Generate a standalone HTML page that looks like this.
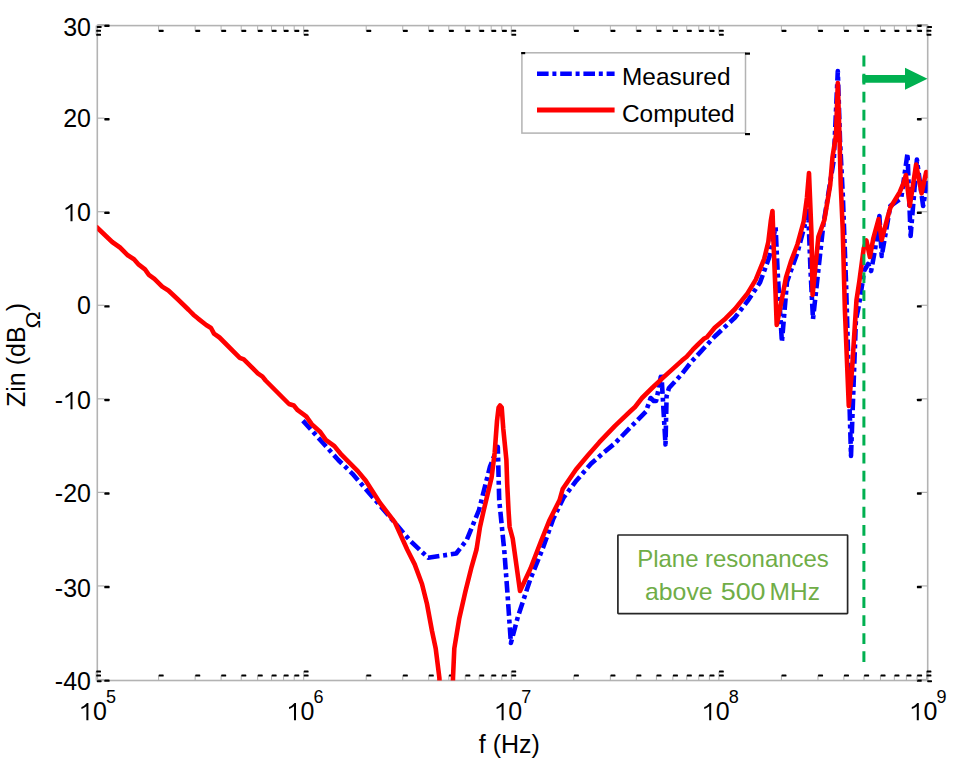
<!DOCTYPE html>
<html><head><meta charset="utf-8"><style>
html,body{margin:0;padding:0;background:#fff;overflow:hidden;}
svg{display:block;}
.t{font-family:"Liberation Sans",sans-serif;font-size:25px;fill:#000;}
.s{font-family:"Liberation Sans",sans-serif;font-size:18px;fill:#000;}
.g{font-family:"Liberation Sans",sans-serif;font-size:24px;fill:#70ad47;}
</style></head><body>
<svg width="958" height="768" viewBox="0 0 958 768">
<rect width="958" height="768" fill="#fff"/>
<rect x="97.3" y="25.6" width="830.4000000000001" height="654.9" fill="none" stroke="#b3b3b3" stroke-width="1.6"/><line x1="97.3" y1="679.5" x2="104.3" y2="679.5" stroke="#b0b0b0" stroke-width="1.2"/><rect x="104.3" y="679.4" width="5.3" height="2.4" rx="0.6" fill="#000"/><line x1="927.7" y1="679.5" x2="920.7" y2="679.5" stroke="#b0b0b0" stroke-width="1.2"/><rect x="916.9000000000001" y="679.4" width="4.8" height="2.4" rx="0.6" fill="#000"/><text x="54.87" y="689.5" class="t">-</text><text x="63.19" y="689.5" class="t">4</text><text x="77.10" y="689.5" class="t">0</text><line x1="97.3" y1="585.9428571428572" x2="104.3" y2="585.9428571428572" stroke="#b0b0b0" stroke-width="1.2"/><rect x="104.3" y="585.8428571428572" width="5.3" height="2.4" rx="0.6" fill="#000"/><line x1="927.7" y1="585.9428571428572" x2="920.7" y2="585.9428571428572" stroke="#b0b0b0" stroke-width="1.2"/><rect x="916.9000000000001" y="585.8428571428572" width="4.8" height="2.4" rx="0.6" fill="#000"/><text x="54.87" y="596.74" class="t">-</text><text x="63.19" y="596.74" class="t">3</text><text x="77.10" y="596.74" class="t">0</text><line x1="97.3" y1="492.3857142857143" x2="104.3" y2="492.3857142857143" stroke="#b0b0b0" stroke-width="1.2"/><rect x="104.3" y="492.2857142857143" width="5.3" height="2.4" rx="0.6" fill="#000"/><line x1="927.7" y1="492.3857142857143" x2="920.7" y2="492.3857142857143" stroke="#b0b0b0" stroke-width="1.2"/><rect x="916.9000000000001" y="492.2857142857143" width="4.8" height="2.4" rx="0.6" fill="#000"/><text x="54.87" y="501.89" class="t">-</text><text x="63.19" y="501.89" class="t">2</text><text x="77.10" y="501.89" class="t">0</text><line x1="97.3" y1="398.8285714285715" x2="104.3" y2="398.8285714285715" stroke="#b0b0b0" stroke-width="1.2"/><rect x="104.3" y="398.72857142857146" width="5.3" height="2.4" rx="0.6" fill="#000"/><line x1="927.7" y1="398.8285714285715" x2="920.7" y2="398.8285714285715" stroke="#b0b0b0" stroke-width="1.2"/><rect x="916.9000000000001" y="398.72857142857146" width="4.8" height="2.4" rx="0.6" fill="#000"/><text x="54.87" y="409.23" class="t">-</text><path d="M763,0 L598,0 L598,1160 Q530,1095 412,1027 Q296,962 190,930 L190,1090 Q357,1160 474,1262 Q591,1364 645,1409 L763,1409 Z" transform="translate(63.19,409.23) scale(0.012207,-0.012207)" fill="#000"/><text x="77.10" y="409.23" class="t">0</text><line x1="97.3" y1="305.2714285714286" x2="104.3" y2="305.2714285714286" stroke="#b0b0b0" stroke-width="1.2"/><rect x="104.3" y="305.1714285714286" width="5.3" height="2.4" rx="0.6" fill="#000"/><line x1="927.7" y1="305.2714285714286" x2="920.7" y2="305.2714285714286" stroke="#b0b0b0" stroke-width="1.2"/><rect x="916.9000000000001" y="305.1714285714286" width="4.8" height="2.4" rx="0.6" fill="#000"/><text x="77.10" y="314.27" class="t">0</text><line x1="97.3" y1="211.71428571428572" x2="104.3" y2="211.71428571428572" stroke="#b0b0b0" stroke-width="1.2"/><rect x="104.3" y="211.61428571428573" width="5.3" height="2.4" rx="0.6" fill="#000"/><line x1="927.7" y1="211.71428571428572" x2="920.7" y2="211.71428571428572" stroke="#b0b0b0" stroke-width="1.2"/><rect x="916.9000000000001" y="211.61428571428573" width="4.8" height="2.4" rx="0.6" fill="#000"/><path d="M763,0 L598,0 L598,1160 Q530,1095 412,1027 Q296,962 190,930 L190,1090 Q357,1160 474,1262 Q591,1364 645,1409 L763,1409 Z" transform="translate(63.19,221.21) scale(0.012207,-0.012207)" fill="#000"/><text x="77.10" y="221.21" class="t">0</text><line x1="97.3" y1="118.15714285714287" x2="104.3" y2="118.15714285714287" stroke="#b0b0b0" stroke-width="1.2"/><rect x="104.3" y="118.05714285714288" width="5.3" height="2.4" rx="0.6" fill="#000"/><line x1="927.7" y1="118.15714285714287" x2="920.7" y2="118.15714285714287" stroke="#b0b0b0" stroke-width="1.2"/><rect x="916.9000000000001" y="118.05714285714288" width="4.8" height="2.4" rx="0.6" fill="#000"/><text x="63.19" y="126.76" class="t">2</text><text x="77.10" y="126.76" class="t">0</text><line x1="97.3" y1="24.6" x2="104.3" y2="24.6" stroke="#b0b0b0" stroke-width="1.2"/><rect x="104.3" y="24.5" width="5.3" height="2.4" rx="0.6" fill="#000"/><line x1="927.7" y1="24.6" x2="920.7" y2="24.6" stroke="#b0b0b0" stroke-width="1.2"/><rect x="916.9000000000001" y="24.5" width="4.8" height="2.4" rx="0.6" fill="#000"/><text x="63.19" y="35.8" class="t">3</text><text x="77.10" y="35.8" class="t">0</text><line x1="158.5938270998425" y1="25.6" x2="158.5938270998425" y2="30.6" stroke="#b0b0b0" stroke-width="1"/><line x1="158.5938270998425" y1="680.5" x2="158.5938270998425" y2="675.5" stroke="#b0b0b0" stroke-width="1"/><rect x="158.6938270998425" y="29.8" width="5" height="2.1" rx="0.6" fill="#000"/><rect x="158.6938270998425" y="674.4" width="5" height="2.1" rx="0.6" fill="#000"/><line x1="195.15037247980197" y1="25.6" x2="195.15037247980197" y2="30.6" stroke="#b0b0b0" stroke-width="1"/><line x1="195.15037247980197" y1="680.5" x2="195.15037247980197" y2="675.5" stroke="#b0b0b0" stroke-width="1"/><rect x="195.25037247980197" y="29.8" width="5" height="2.1" rx="0.6" fill="#000"/><rect x="195.25037247980197" y="674.4" width="5" height="2.1" rx="0.6" fill="#000"/><line x1="221.08765419968503" y1="25.6" x2="221.08765419968503" y2="30.6" stroke="#b0b0b0" stroke-width="1"/><line x1="221.08765419968503" y1="680.5" x2="221.08765419968503" y2="675.5" stroke="#b0b0b0" stroke-width="1"/><rect x="221.18765419968503" y="29.8" width="5" height="2.1" rx="0.6" fill="#000"/><rect x="221.18765419968503" y="674.4" width="5" height="2.1" rx="0.6" fill="#000"/><line x1="241.20617290015753" y1="25.6" x2="241.20617290015753" y2="30.6" stroke="#b0b0b0" stroke-width="1"/><line x1="241.20617290015753" y1="680.5" x2="241.20617290015753" y2="675.5" stroke="#b0b0b0" stroke-width="1"/><rect x="241.30617290015752" y="29.8" width="5" height="2.1" rx="0.6" fill="#000"/><rect x="241.30617290015752" y="674.4" width="5" height="2.1" rx="0.6" fill="#000"/><line x1="257.64419957964446" y1="25.6" x2="257.64419957964446" y2="30.6" stroke="#b0b0b0" stroke-width="1"/><line x1="257.64419957964446" y1="680.5" x2="257.64419957964446" y2="675.5" stroke="#b0b0b0" stroke-width="1"/><rect x="257.74419957964443" y="29.8" width="5" height="2.1" rx="0.6" fill="#000"/><rect x="257.74419957964443" y="674.4" width="5" height="2.1" rx="0.6" fill="#000"/><line x1="271.54235310695975" y1="25.6" x2="271.54235310695975" y2="30.6" stroke="#b0b0b0" stroke-width="1"/><line x1="271.54235310695975" y1="680.5" x2="271.54235310695975" y2="675.5" stroke="#b0b0b0" stroke-width="1"/><rect x="271.6423531069597" y="29.8" width="5" height="2.1" rx="0.6" fill="#000"/><rect x="271.6423531069597" y="674.4" width="5" height="2.1" rx="0.6" fill="#000"/><line x1="283.5814812995276" y1="25.6" x2="283.5814812995276" y2="30.6" stroke="#b0b0b0" stroke-width="1"/><line x1="283.5814812995276" y1="680.5" x2="283.5814812995276" y2="675.5" stroke="#b0b0b0" stroke-width="1"/><rect x="283.68148129952755" y="29.8" width="5" height="2.1" rx="0.6" fill="#000"/><rect x="283.68148129952755" y="674.4" width="5" height="2.1" rx="0.6" fill="#000"/><line x1="294.2007449596039" y1="25.6" x2="294.2007449596039" y2="30.6" stroke="#b0b0b0" stroke-width="1"/><line x1="294.2007449596039" y1="680.5" x2="294.2007449596039" y2="675.5" stroke="#b0b0b0" stroke-width="1"/><rect x="294.3007449596039" y="29.8" width="5" height="2.1" rx="0.6" fill="#000"/><rect x="294.3007449596039" y="674.4" width="5" height="2.1" rx="0.6" fill="#000"/><line x1="366.19382709984257" y1="25.6" x2="366.19382709984257" y2="30.6" stroke="#b0b0b0" stroke-width="1"/><line x1="366.19382709984257" y1="680.5" x2="366.19382709984257" y2="675.5" stroke="#b0b0b0" stroke-width="1"/><rect x="366.29382709984253" y="29.8" width="5" height="2.1" rx="0.6" fill="#000"/><rect x="366.29382709984253" y="674.4" width="5" height="2.1" rx="0.6" fill="#000"/><line x1="402.750372479802" y1="25.6" x2="402.750372479802" y2="30.6" stroke="#b0b0b0" stroke-width="1"/><line x1="402.750372479802" y1="680.5" x2="402.750372479802" y2="675.5" stroke="#b0b0b0" stroke-width="1"/><rect x="402.850372479802" y="29.8" width="5" height="2.1" rx="0.6" fill="#000"/><rect x="402.850372479802" y="674.4" width="5" height="2.1" rx="0.6" fill="#000"/><line x1="428.6876541996851" y1="25.6" x2="428.6876541996851" y2="30.6" stroke="#b0b0b0" stroke-width="1"/><line x1="428.6876541996851" y1="680.5" x2="428.6876541996851" y2="675.5" stroke="#b0b0b0" stroke-width="1"/><rect x="428.78765419968505" y="29.8" width="5" height="2.1" rx="0.6" fill="#000"/><rect x="428.78765419968505" y="674.4" width="5" height="2.1" rx="0.6" fill="#000"/><line x1="448.80617290015755" y1="25.6" x2="448.80617290015755" y2="30.6" stroke="#b0b0b0" stroke-width="1"/><line x1="448.80617290015755" y1="680.5" x2="448.80617290015755" y2="675.5" stroke="#b0b0b0" stroke-width="1"/><rect x="448.9061729001575" y="29.8" width="5" height="2.1" rx="0.6" fill="#000"/><rect x="448.9061729001575" y="674.4" width="5" height="2.1" rx="0.6" fill="#000"/><line x1="465.24419957964454" y1="25.6" x2="465.24419957964454" y2="30.6" stroke="#b0b0b0" stroke-width="1"/><line x1="465.24419957964454" y1="680.5" x2="465.24419957964454" y2="675.5" stroke="#b0b0b0" stroke-width="1"/><rect x="465.3441995796445" y="29.8" width="5" height="2.1" rx="0.6" fill="#000"/><rect x="465.3441995796445" y="674.4" width="5" height="2.1" rx="0.6" fill="#000"/><line x1="479.1423531069598" y1="25.6" x2="479.1423531069598" y2="30.6" stroke="#b0b0b0" stroke-width="1"/><line x1="479.1423531069598" y1="680.5" x2="479.1423531069598" y2="675.5" stroke="#b0b0b0" stroke-width="1"/><rect x="479.24235310695974" y="29.8" width="5" height="2.1" rx="0.6" fill="#000"/><rect x="479.24235310695974" y="674.4" width="5" height="2.1" rx="0.6" fill="#000"/><line x1="491.1814812995276" y1="25.6" x2="491.1814812995276" y2="30.6" stroke="#b0b0b0" stroke-width="1"/><line x1="491.1814812995276" y1="680.5" x2="491.1814812995276" y2="675.5" stroke="#b0b0b0" stroke-width="1"/><rect x="491.28148129952757" y="29.8" width="5" height="2.1" rx="0.6" fill="#000"/><rect x="491.28148129952757" y="674.4" width="5" height="2.1" rx="0.6" fill="#000"/><line x1="501.800744959604" y1="25.6" x2="501.800744959604" y2="30.6" stroke="#b0b0b0" stroke-width="1"/><line x1="501.800744959604" y1="680.5" x2="501.800744959604" y2="675.5" stroke="#b0b0b0" stroke-width="1"/><rect x="501.90074495960397" y="29.8" width="5" height="2.1" rx="0.6" fill="#000"/><rect x="501.90074495960397" y="674.4" width="5" height="2.1" rx="0.6" fill="#000"/><line x1="573.7938270998425" y1="25.6" x2="573.7938270998425" y2="30.6" stroke="#b0b0b0" stroke-width="1"/><line x1="573.7938270998425" y1="680.5" x2="573.7938270998425" y2="675.5" stroke="#b0b0b0" stroke-width="1"/><rect x="573.8938270998425" y="29.8" width="5" height="2.1" rx="0.6" fill="#000"/><rect x="573.8938270998425" y="674.4" width="5" height="2.1" rx="0.6" fill="#000"/><line x1="610.3503724798019" y1="25.6" x2="610.3503724798019" y2="30.6" stroke="#b0b0b0" stroke-width="1"/><line x1="610.3503724798019" y1="680.5" x2="610.3503724798019" y2="675.5" stroke="#b0b0b0" stroke-width="1"/><rect x="610.4503724798019" y="29.8" width="5" height="2.1" rx="0.6" fill="#000"/><rect x="610.4503724798019" y="674.4" width="5" height="2.1" rx="0.6" fill="#000"/><line x1="636.287654199685" y1="25.6" x2="636.287654199685" y2="30.6" stroke="#b0b0b0" stroke-width="1"/><line x1="636.287654199685" y1="680.5" x2="636.287654199685" y2="675.5" stroke="#b0b0b0" stroke-width="1"/><rect x="636.387654199685" y="29.8" width="5" height="2.1" rx="0.6" fill="#000"/><rect x="636.387654199685" y="674.4" width="5" height="2.1" rx="0.6" fill="#000"/><line x1="656.4061729001575" y1="25.6" x2="656.4061729001575" y2="30.6" stroke="#b0b0b0" stroke-width="1"/><line x1="656.4061729001575" y1="680.5" x2="656.4061729001575" y2="675.5" stroke="#b0b0b0" stroke-width="1"/><rect x="656.5061729001575" y="29.8" width="5" height="2.1" rx="0.6" fill="#000"/><rect x="656.5061729001575" y="674.4" width="5" height="2.1" rx="0.6" fill="#000"/><line x1="672.8441995796444" y1="25.6" x2="672.8441995796444" y2="30.6" stroke="#b0b0b0" stroke-width="1"/><line x1="672.8441995796444" y1="680.5" x2="672.8441995796444" y2="675.5" stroke="#b0b0b0" stroke-width="1"/><rect x="672.9441995796444" y="29.8" width="5" height="2.1" rx="0.6" fill="#000"/><rect x="672.9441995796444" y="674.4" width="5" height="2.1" rx="0.6" fill="#000"/><line x1="686.7423531069597" y1="25.6" x2="686.7423531069597" y2="30.6" stroke="#b0b0b0" stroke-width="1"/><line x1="686.7423531069597" y1="680.5" x2="686.7423531069597" y2="675.5" stroke="#b0b0b0" stroke-width="1"/><rect x="686.8423531069598" y="29.8" width="5" height="2.1" rx="0.6" fill="#000"/><rect x="686.8423531069598" y="674.4" width="5" height="2.1" rx="0.6" fill="#000"/><line x1="698.7814812995275" y1="25.6" x2="698.7814812995275" y2="30.6" stroke="#b0b0b0" stroke-width="1"/><line x1="698.7814812995275" y1="680.5" x2="698.7814812995275" y2="675.5" stroke="#b0b0b0" stroke-width="1"/><rect x="698.8814812995275" y="29.8" width="5" height="2.1" rx="0.6" fill="#000"/><rect x="698.8814812995275" y="674.4" width="5" height="2.1" rx="0.6" fill="#000"/><line x1="709.4007449596039" y1="25.6" x2="709.4007449596039" y2="30.6" stroke="#b0b0b0" stroke-width="1"/><line x1="709.4007449596039" y1="680.5" x2="709.4007449596039" y2="675.5" stroke="#b0b0b0" stroke-width="1"/><rect x="709.5007449596039" y="29.8" width="5" height="2.1" rx="0.6" fill="#000"/><rect x="709.5007449596039" y="674.4" width="5" height="2.1" rx="0.6" fill="#000"/><line x1="781.3938270998425" y1="25.6" x2="781.3938270998425" y2="30.6" stroke="#b0b0b0" stroke-width="1"/><line x1="781.3938270998425" y1="680.5" x2="781.3938270998425" y2="675.5" stroke="#b0b0b0" stroke-width="1"/><rect x="781.4938270998425" y="29.8" width="5" height="2.1" rx="0.6" fill="#000"/><rect x="781.4938270998425" y="674.4" width="5" height="2.1" rx="0.6" fill="#000"/><line x1="817.9503724798019" y1="25.6" x2="817.9503724798019" y2="30.6" stroke="#b0b0b0" stroke-width="1"/><line x1="817.9503724798019" y1="680.5" x2="817.9503724798019" y2="675.5" stroke="#b0b0b0" stroke-width="1"/><rect x="818.0503724798019" y="29.8" width="5" height="2.1" rx="0.6" fill="#000"/><rect x="818.0503724798019" y="674.4" width="5" height="2.1" rx="0.6" fill="#000"/><line x1="843.887654199685" y1="25.6" x2="843.887654199685" y2="30.6" stroke="#b0b0b0" stroke-width="1"/><line x1="843.887654199685" y1="680.5" x2="843.887654199685" y2="675.5" stroke="#b0b0b0" stroke-width="1"/><rect x="843.987654199685" y="29.8" width="5" height="2.1" rx="0.6" fill="#000"/><rect x="843.987654199685" y="674.4" width="5" height="2.1" rx="0.6" fill="#000"/><line x1="864.0061729001575" y1="25.6" x2="864.0061729001575" y2="30.6" stroke="#b0b0b0" stroke-width="1"/><line x1="864.0061729001575" y1="680.5" x2="864.0061729001575" y2="675.5" stroke="#b0b0b0" stroke-width="1"/><rect x="864.1061729001575" y="29.8" width="5" height="2.1" rx="0.6" fill="#000"/><rect x="864.1061729001575" y="674.4" width="5" height="2.1" rx="0.6" fill="#000"/><line x1="880.4441995796444" y1="25.6" x2="880.4441995796444" y2="30.6" stroke="#b0b0b0" stroke-width="1"/><line x1="880.4441995796444" y1="680.5" x2="880.4441995796444" y2="675.5" stroke="#b0b0b0" stroke-width="1"/><rect x="880.5441995796444" y="29.8" width="5" height="2.1" rx="0.6" fill="#000"/><rect x="880.5441995796444" y="674.4" width="5" height="2.1" rx="0.6" fill="#000"/><line x1="894.3423531069598" y1="25.6" x2="894.3423531069598" y2="30.6" stroke="#b0b0b0" stroke-width="1"/><line x1="894.3423531069598" y1="680.5" x2="894.3423531069598" y2="675.5" stroke="#b0b0b0" stroke-width="1"/><rect x="894.4423531069598" y="29.8" width="5" height="2.1" rx="0.6" fill="#000"/><rect x="894.4423531069598" y="674.4" width="5" height="2.1" rx="0.6" fill="#000"/><line x1="906.3814812995275" y1="25.6" x2="906.3814812995275" y2="30.6" stroke="#b0b0b0" stroke-width="1"/><line x1="906.3814812995275" y1="680.5" x2="906.3814812995275" y2="675.5" stroke="#b0b0b0" stroke-width="1"/><rect x="906.4814812995276" y="29.8" width="5" height="2.1" rx="0.6" fill="#000"/><rect x="906.4814812995276" y="674.4" width="5" height="2.1" rx="0.6" fill="#000"/><line x1="917.0007449596039" y1="25.6" x2="917.0007449596039" y2="30.6" stroke="#b0b0b0" stroke-width="1"/><line x1="917.0007449596039" y1="680.5" x2="917.0007449596039" y2="675.5" stroke="#b0b0b0" stroke-width="1"/><rect x="917.100744959604" y="29.8" width="5" height="2.1" rx="0.6" fill="#000"/><rect x="917.100744959604" y="674.4" width="5" height="2.1" rx="0.6" fill="#000"/><line x1="96.1" y1="25.6" x2="96.1" y2="34.6" stroke="#b0b0b0" stroke-width="1"/><line x1="96.1" y1="680.5" x2="96.1" y2="671.5" stroke="#b0b0b0" stroke-width="1"/><rect x="96.2" y="29.8" width="4.8" height="2" rx="0.6" fill="#000"/><rect x="96.2" y="33.8" width="4.8" height="2" rx="0.6" fill="#000"/><rect x="96.2" y="674.5" width="4.8" height="2" rx="0.6" fill="#000"/><rect x="96.2" y="670.5" width="4.8" height="2" rx="0.6" fill="#000"/><path d="M763,0 L598,0 L598,1160 Q530,1095 412,1027 Q296,962 190,930 L190,1090 Q357,1160 474,1262 Q591,1364 645,1409 L763,1409 Z" transform="translate(79.09,720.3) scale(0.012207,-0.012207)" fill="#000"/><text x="93.00" y="720.3" class="t">0</text><text x="106.0" y="703" class="s">5</text><line x1="303.70000000000005" y1="25.6" x2="303.70000000000005" y2="34.6" stroke="#b0b0b0" stroke-width="1"/><line x1="303.70000000000005" y1="680.5" x2="303.70000000000005" y2="671.5" stroke="#b0b0b0" stroke-width="1"/><rect x="303.8" y="29.8" width="4.8" height="2" rx="0.6" fill="#000"/><rect x="303.8" y="33.8" width="4.8" height="2" rx="0.6" fill="#000"/><rect x="303.8" y="674.5" width="4.8" height="2" rx="0.6" fill="#000"/><rect x="303.8" y="670.5" width="4.8" height="2" rx="0.6" fill="#000"/><path d="M763,0 L598,0 L598,1160 Q530,1095 412,1027 Q296,962 190,930 L190,1090 Q357,1160 474,1262 Q591,1364 645,1409 L763,1409 Z" transform="translate(286.69,720.3) scale(0.012207,-0.012207)" fill="#000"/><text x="300.60" y="720.3" class="t">0</text><text x="313.6" y="703" class="s">6</text><line x1="511.3" y1="25.6" x2="511.3" y2="34.6" stroke="#b0b0b0" stroke-width="1"/><line x1="511.3" y1="680.5" x2="511.3" y2="671.5" stroke="#b0b0b0" stroke-width="1"/><rect x="511.4" y="29.8" width="4.8" height="2" rx="0.6" fill="#000"/><rect x="511.4" y="33.8" width="4.8" height="2" rx="0.6" fill="#000"/><rect x="511.4" y="674.5" width="4.8" height="2" rx="0.6" fill="#000"/><rect x="511.4" y="670.5" width="4.8" height="2" rx="0.6" fill="#000"/><path d="M763,0 L598,0 L598,1160 Q530,1095 412,1027 Q296,962 190,930 L190,1090 Q357,1160 474,1262 Q591,1364 645,1409 L763,1409 Z" transform="translate(494.29,720.3) scale(0.012207,-0.012207)" fill="#000"/><text x="508.20" y="720.3" class="t">0</text><text x="521.2" y="703" class="s">7</text><line x1="718.9" y1="25.6" x2="718.9" y2="34.6" stroke="#b0b0b0" stroke-width="1"/><line x1="718.9" y1="680.5" x2="718.9" y2="671.5" stroke="#b0b0b0" stroke-width="1"/><rect x="719.0" y="29.8" width="4.8" height="2" rx="0.6" fill="#000"/><rect x="719.0" y="33.8" width="4.8" height="2" rx="0.6" fill="#000"/><rect x="719.0" y="674.5" width="4.8" height="2" rx="0.6" fill="#000"/><rect x="719.0" y="670.5" width="4.8" height="2" rx="0.6" fill="#000"/><path d="M763,0 L598,0 L598,1160 Q530,1095 412,1027 Q296,962 190,930 L190,1090 Q357,1160 474,1262 Q591,1364 645,1409 L763,1409 Z" transform="translate(701.89,720.3) scale(0.012207,-0.012207)" fill="#000"/><text x="715.80" y="720.3" class="t">0</text><text x="728.8000000000001" y="703" class="s">8</text><line x1="926.5" y1="25.6" x2="926.5" y2="34.6" stroke="#b0b0b0" stroke-width="1"/><line x1="926.5" y1="680.5" x2="926.5" y2="671.5" stroke="#b0b0b0" stroke-width="1"/><rect x="926.6" y="29.8" width="4.8" height="2" rx="0.6" fill="#000"/><rect x="926.6" y="33.8" width="4.8" height="2" rx="0.6" fill="#000"/><rect x="926.6" y="674.5" width="4.8" height="2" rx="0.6" fill="#000"/><rect x="926.6" y="670.5" width="4.8" height="2" rx="0.6" fill="#000"/><path d="M763,0 L598,0 L598,1160 Q530,1095 412,1027 Q296,962 190,930 L190,1090 Q357,1160 474,1262 Q591,1364 645,1409 L763,1409 Z" transform="translate(909.49,720.3) scale(0.012207,-0.012207)" fill="#000"/><text x="923.40" y="720.3" class="t">0</text><text x="936.4000000000001" y="703" class="s">9</text><rect x="96.8" y="26.0" width="4.8" height="2" rx="0.6" fill="#000"/><rect x="96.8" y="680.2" width="4.8" height="2" rx="0.6" fill="#000"/><rect x="927.2" y="26.0" width="4.8" height="2" rx="0.6" fill="#000"/><rect x="927.2" y="680.2" width="4.8" height="2" rx="0.6" fill="#000"/><clipPath id="c"><rect x="97.3" y="25.6" width="830.4000000000001" height="654.9"/></clipPath><path clip-path="url(#c)" d="M302.9,420.6 L321.2,441.0 L338.3,460.0 L352.5,473.8 L393.0,520.6 L410.4,541.0 L428.1,557.7 L456.2,553.5 L466.7,540.0 L479.0,510.0 L490.0,466.6 L497.8,447.0 L499.2,500.0 L504.4,552.0 L507.5,593.8 L510.9,643.0 L517.9,616.7 L530.4,579.0 L542.9,548.0 L553.3,518.8 L563.4,498.0 L575.6,481.6 L591.2,463.5 L603.8,452.5 L614.7,443.5 L630.3,427.5 L646.0,411.5 L650.6,398.0 L653.8,401.0 L656.1,401.0 L658.4,390.0 L661.4,373.5 L663.5,410.0 L665.5,444.5 L666.6,396.0 L669.0,388.0 L681.9,374.0 L691.2,362.0 L714.7,336.5 L735.0,317.5 L747.5,301.2 L760.0,282.5 L769.4,256.7 L775.6,227.0 L777.7,273.0 L779.8,306.7 L781.9,342.0 L787.0,281.7 L797.5,252.5 L805.8,221.0 L807.9,204.0 L810.5,270.0 L812.0,300.0 L813.0,319.0 L823.3,225.0 L833.8,160.0 L837.8,71.0 L840.0,140.0 L842.8,195.0 L846.0,281.7 L851.0,456.0 L855.9,320.0 L858.7,306.6 L862.6,281.7 L864.0,271.0 L868.1,264.0 L871.1,271.0 L875.0,250.0 L879.4,216.0 L881.7,256.0 L890.3,206.0 L901.2,198.4 L907.5,153.5 L910.6,236.0 L916.9,159.5 L923.1,206.0 L927.0,183.0 L932.0,190.0" fill="none" stroke="#0000ff" stroke-width="4.6" stroke-dasharray="11.6 3.8 4 3.8" stroke-linejoin="round"/><path clip-path="url(#c)" d="M96.0,226.5 L112.2,242.0 L120.0,247.5 L127.8,255.3 L134.0,259.2 L138.8,264.7 L145.0,269.4 L148.9,274.8 L154.4,278.8 L162.2,286.6 L168.4,290.5 L178.0,299.5 L188.8,310.0 L193.4,314.7 L198.1,318.6 L206.2,325.0 L211.0,328.0 L214.0,333.6 L219.5,337.5 L239.8,357.8 L243.8,359.4 L257.8,373.4 L262.5,376.6 L265.6,380.5 L289.0,404.0 L293.8,405.5 L297.7,410.2 L306.2,416.4 L311.7,424.2 L320.3,432.0 L325.8,439.8 L334.4,446.1 L341.4,454.7 L357.8,471.1 L365.6,480.5 L380.0,503.0 L394.9,522.3 L407.2,549.5 L414.7,564.4 L422.0,584.0 L427.0,604.0 L432.0,631.0 L435.7,648.5 L439.4,678.0 L440.0,700.0 L452.5,700.0 L453.0,678.0 L454.3,648.5 L459.2,618.8 L465.4,591.6 L471.6,566.8 L476.5,549.5 L480.0,527.0 L483.8,510.0 L491.6,477.5 L494.7,452.5 L497.0,421.0 L498.6,407.5 L500.0,405.5 L501.7,407.5 L503.3,429.0 L506.4,460.0 L507.2,483.8 L508.5,510.0 L509.6,527.0 L512.7,538.5 L520.0,591.0 L530.4,568.8 L540.8,541.7 L549.2,520.8 L559.6,500.0 L562.7,489.0 L576.0,469.5 L588.4,454.7 L599.4,442.2 L615.0,425.8 L630.6,411.0 L635.0,407.0 L642.0,398.0 L652.6,387.5 L663.1,377.6 L681.9,360.6 L686.6,356.7 L692.8,349.7 L697.5,345.0 L703.8,338.8 L706.9,337.2 L714.7,327.8 L725.6,318.4 L735.0,309.0 L747.5,293.4 L755.8,279.6 L764.2,258.8 L768.3,242.0 L770.8,221.0 L772.5,211.0 L773.5,242.0 L775.6,294.0 L776.7,325.0 L780.8,304.6 L786.0,277.5 L791.2,260.8 L797.5,244.2 L803.8,221.0 L806.9,198.0 L809.0,173.0 L811.4,232.0 L812.6,295.0 L818.4,236.7 L824.3,220.3 L830.2,185.0 L832.5,157.0 L836.0,135.0 L837.8,83.0 L839.6,140.0 L840.7,184.0 L842.7,228.6 L844.9,310.0 L848.8,406.0 L852.0,370.0 L856.5,300.0 L859.3,281.7 L863.7,248.5 L866.4,240.4 L869.9,257.0 L873.4,238.0 L878.6,219.0 L881.7,240.0 L887.2,218.8 L890.3,207.8 L895.0,200.0 L899.7,192.2 L903.6,182.8 L905.9,175.0 L909.8,206.0 L916.1,164.5 L921.6,193.3 L926.2,172.0 L932.0,180.0" fill="none" stroke="#ff0000" stroke-width="4.6" stroke-linejoin="round"/><line x1="863.9" y1="55.6" x2="863.9" y2="662.2" stroke="#00b050" stroke-width="3" stroke-dasharray="10.8 7.25"/><polygon points="862.4,75 905,75 905,67.8 927.5,78.8 905,89.8 905,82.8 862.4,82.8" fill="#00b050"/><rect x="521.9" y="52.8" width="223.6" height="80.3" fill="#fff" stroke="#b3b3b3" stroke-width="1.5"/><rect x="521.2" y="52" width="4" height="2.2" fill="#000"/><rect x="745" y="52.5" width="5" height="2.2" fill="#000"/><rect x="745" y="133" width="5" height="2.2" fill="#000"/><line x1="537" y1="73.7" x2="614.6" y2="73.7" stroke="#0000ff" stroke-width="4.6" stroke-dasharray="11.6 3.8 4 3.8"/><line x1="537" y1="110.1" x2="614.6" y2="110.1" stroke="#ff0000" stroke-width="5"/><text x="622" y="85" class="t" style="font-size:24.4px">Measured</text><text x="622" y="122" class="t" style="font-size:24.4px">Computed</text><rect x="617.9" y="535" width="229.7" height="78.6" rx="0.6" fill="#fff" stroke="#262626" stroke-width="1.7"/><text x="637.15" y="566.6" class="g" textLength="61.34999999999993" lengthAdjust="spacingAndGlyphs">Plane</text><text x="705.0" y="566.6" class="g" textLength="123.79999999999998" lengthAdjust="spacingAndGlyphs">resonances</text><text x="645.0" y="600" class="g" textLength="67.59999999999994" lengthAdjust="spacingAndGlyphs">above</text><text x="720.6999999999999" y="600" class="g" textLength="44.9" lengthAdjust="spacingAndGlyphs">500</text><text x="769.5" y="600" class="g" textLength="50.4" lengthAdjust="spacingAndGlyphs">MHz</text><text x="509.3" y="752.5" text-anchor="middle" class="t">f (Hz)</text><text transform="translate(24.7,407) rotate(-90)" class="t">Zin (dB</text><text class="t" style="font-size:20.5px" transform="translate(39.5,328.5) rotate(-90) scale(1.12,1)">Ω</text><text class="t" transform="translate(24.7,311.2) rotate(-90)">)</text>
</svg></body></html>
